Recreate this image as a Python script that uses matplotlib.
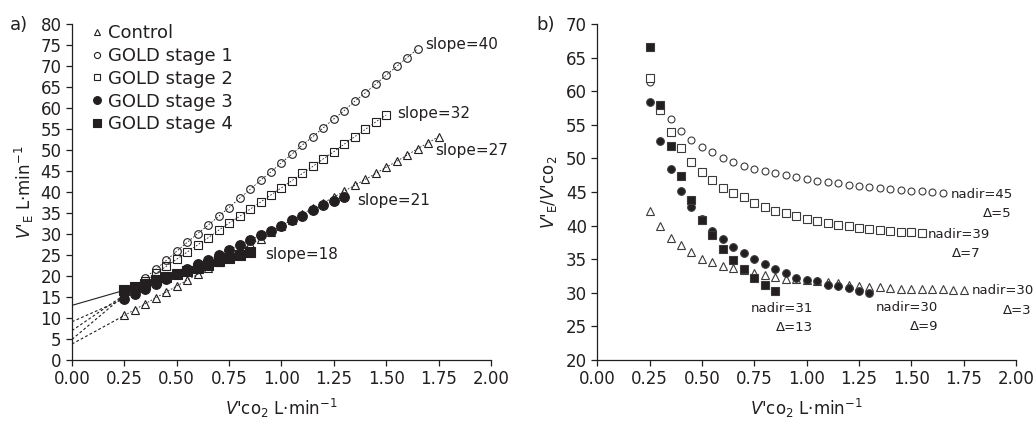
import matplotlib
matplotlib.use("Agg")
import matplotlib.pyplot as plt

plt.rcParams['font.family'] = ['DejaVu Sans']

INK = '#231f20'

# VCO2 steps (L/min) shared by all series
vco2 = [0.25, 0.30, 0.35, 0.40, 0.45, 0.50, 0.55, 0.60, 0.65, 0.70, 0.75,
        0.80, 0.85, 0.90, 0.95, 1.00, 1.05, 1.10, 1.15, 1.20, 1.25, 1.30,
        1.35, 1.40, 1.45, 1.50, 1.55, 1.60, 1.65, 1.70, 1.75]

groups = ['Control', 'GOLD stage 1', 'GOLD stage 2', 'GOLD stage 3', 'GOLD stage 4']

# a) VE (L/min)
ve_control = [10.6, 12.0, 13.4, 14.8, 16.2, 17.6, 19.0, 20.4, 21.9, 23.4, 24.8,
              26.1, 27.5, 28.9, 30.4, 31.9, 33.4, 34.8, 36.1, 37.4, 38.8, 40.2,
              41.6, 43.0, 44.4, 45.9, 47.3, 48.8, 50.3, 51.7, 53.2]
ve_stage1 = [15.4, 17.3, 19.6, 21.6, 23.7, 25.9, 28.0, 30.1, 32.1, 34.2, 36.3,
             38.5, 40.6, 42.8, 44.8, 47.0, 49.0, 51.2, 53.2, 55.3, 57.4, 59.4,
             61.6, 63.6, 65.7, 67.8, 69.9, 72.0, 74.1]
ve_stage2 = [15.5, 17.2, 18.9, 20.6, 22.3, 24.0, 25.7, 27.4, 29.1, 30.9, 32.6,
             34.2, 35.9, 37.6, 39.3, 41.0, 42.7, 44.4, 46.1, 47.9, 49.6, 51.4,
             53.2, 54.9, 56.7, 58.3]
ve_stage3 = [14.6, 15.8, 16.9, 18.1, 19.3, 20.5, 21.6, 22.8, 23.9, 25.1, 26.3,
             27.4, 28.5, 29.7, 30.6, 31.9, 33.3, 34.3, 35.7, 36.8, 37.9, 38.9]
ve_stage4 = [16.6, 17.4, 18.2, 19.0, 19.7, 20.4, 21.2, 21.9, 22.7, 23.5, 24.2,
             25.0, 25.8]
intercepts = [3.8, 4.9, 7.0, 9.1, 13.0]
slope_labels = ['slope=27', 'slope=40', 'slope=32', 'slope=21', 'slope=18']
slope_pos = [(1.735, 49.8), (1.685, 75.0), (1.55, 58.7), (1.36, 37.9), (0.92, 25.2)]

# b) VE/VCO2
eq_control = [42.2, 39.9, 38.2, 37.1, 36.0, 35.1, 34.6, 34.0, 33.7, 33.4, 33.0,
              32.6, 32.3, 32.1, 32.0, 31.9, 31.8, 31.6, 31.4, 31.2, 31.0, 30.9,
              30.8, 30.7, 30.6, 30.6, 30.5, 30.5, 30.5, 30.4, 30.4]
eq_stage1 = [61.4, 57.6, 55.9, 54.1, 52.7, 51.7, 50.9, 50.1, 49.4, 48.9, 48.4,
             48.1, 47.8, 47.5, 47.2, 47.0, 46.7, 46.5, 46.3, 46.1, 45.9, 45.7,
             45.6, 45.4, 45.3, 45.2, 45.1, 45.0, 44.9]
eq_stage2 = [62.0, 57.2, 53.9, 51.5, 49.5, 48.0, 46.8, 45.6, 44.8, 44.2, 43.4,
             42.7, 42.2, 41.8, 41.4, 41.0, 40.7, 40.4, 40.1, 39.9, 39.7, 39.5,
             39.4, 39.2, 39.1, 39.0, 38.9]
eq_stage3 = [58.4, 52.6, 48.4, 45.2, 42.8, 41.0, 39.2, 38.0, 36.8, 35.9, 35.0,
             34.3, 33.5, 33.0, 32.2, 31.9, 31.7, 31.2, 31.0, 30.7, 30.3, 29.9]
eq_stage4 = [66.6, 58.0, 51.9, 47.4, 43.8, 40.8, 38.6, 36.5, 34.9, 33.5, 32.2,
             31.2, 30.3]
nadir_labels = ['nadir=30', 'nadir=45', 'nadir=39', 'nadir=30', 'nadir=31']
nadir_pos = [(1.79, 30.3), (1.69, 44.6), (1.58, 38.6), (1.33, 27.8), (0.735, 27.6)]
delta_labels = ['Δ=3', 'Δ=5', 'Δ=7', 'Δ=9', 'Δ=13']
delta_pos = [(2.075, 27.3), (1.98, 41.8), (1.83, 35.8), (1.56, 25.0), (0.94, 24.9)]

markers = ['^', 'o', 's', 'o', 's']
faces = ['none', 'none', 'none', INK, INK]
left_ms = [6, 5.5, 5.5, 7, 6.5]
right_ms = [5.5, 5, 5.3, 5.5, 5.8]

fig = plt.figure(figsize=(10.36, 4.23), dpi=100)
axa = fig.add_axes([0.0695, 0.149, 0.4044, 0.7943])
axb = fig.add_axes([0.5765, 0.149, 0.4042, 0.7943])

ve_series = [ve_control, ve_stage1, ve_stage2, ve_stage3, ve_stage4]
eq_series = [eq_control, eq_stage1, eq_stage2, eq_stage3, eq_stage4]

for i, ve in enumerate(ve_series):
    x = vco2[:len(ve)]
    # extrapolation to the y-axis
    axa.plot([0, x[0]], [intercepts[i], ve[0]], color=INK, lw=0.8,
             ls='-' if i == 4 else (0, (2.5, 2)), zorder=1)
    axa.plot(x, ve, ls=(0, (2, 2)), lw=0.6, color=INK, marker=markers[i],
             ms=left_ms[i], mfc=faces[i], mec=INK, mew=0.8, label=groups[i],
             zorder=2 + i)
    axa.text(slope_pos[i][0], slope_pos[i][1], slope_labels[i], fontsize=11,
             color=INK, va='center', ha='left')

for i, eq in enumerate(eq_series):
    x = vco2[:len(eq)]
    axb.plot(x, eq, ls='none', marker=markers[i], ms=right_ms[i],
             mfc='white' if i < 3 else INK, mec='#3a3a3a', mew=0.8,
             zorder=2 + i)
    axb.text(nadir_pos[i][0], nadir_pos[i][1], nadir_labels[i], fontsize=9.5,
             color=INK, va='center', ha='left', clip_on=False)
    axb.text(delta_pos[i][0], delta_pos[i][1], delta_labels[i], fontsize=9.5,
             color=INK, va='center', ha='right' if i < 3 else 'center',
             clip_on=False)

leg = axa.legend(loc='upper left', bbox_to_anchor=(0.047, 1.0), frameon=False,
                 fontsize=13, handlelength=0.6, handletextpad=0.3,
                 labelspacing=0.27, borderaxespad=0, borderpad=0,
                 markerscale=0.8)
for h in leg.legend_handles:
    h.set_linestyle('none')
for t in leg.get_texts():
    t.set_color(INK)

xticks = [0, 0.25, 0.5, 0.75, 1.0, 1.25, 1.5, 1.75, 2.0]
for ax in (axa, axb):
    ax.set_xlim(0, 2)
    ax.set_xticks(xticks)
    ax.set_xticklabels([f'{t:.2f}' for t in xticks])
    for s in ('top', 'right'):
        ax.spines[s].set_visible(False)
    for s in ('left', 'bottom'):
        ax.spines[s].set_color(INK)
        ax.spines[s].set_linewidth(0.9)
    ax.tick_params(direction='out', length=4.5, width=0.9, colors=INK,
                   labelsize=12, pad=3)
    ax.set_xlabel(r"$\mathit{V}$'co$_2$ L·min$^{-1}$", fontsize=12,
                  color=INK, labelpad=6)

axa.set_ylim(0, 80)
axa.set_yticks(range(0, 81, 5))
axa.set_ylabel(r"$\mathit{V}$'$_\mathrm{E}$ L·min$^{-1}$", fontsize=12,
               color=INK, labelpad=3)
axb.set_ylim(20, 70)
axb.set_yticks(range(20, 71, 5))
axb.set_ylabel(r"$\mathit{V}$'$_\mathrm{E}$/$\mathit{V}$'co$_2$", fontsize=12,
               color=INK, labelpad=5)

fig.text(0.010, 0.94, 'a)', fontsize=13, color=INK, va='center')
fig.text(0.518, 0.94, 'b)', fontsize=13, color=INK, va='center')

fig.savefig('out.png', dpi=100)
